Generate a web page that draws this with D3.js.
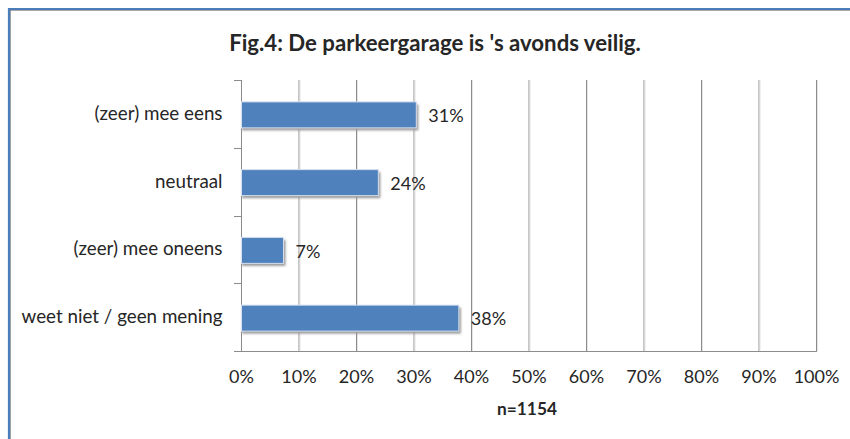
<!DOCTYPE html>
<html>
<head>
<meta charset="utf-8">
<script src="https://cdn.jsdelivr.net/npm/d3@7"></script>
<style>
  html, body { margin: 0; padding: 0; background: #fff; }
  svg { display: block; }
  text { font-family: Lato, "Open Sans", sans-serif; fill: #262626; }
</style>
</head>
<body>
<svg id="chart" width="850" height="439"></svg>
<script>
const title = "Fig.4: De parkeergarage is 's avonds veilig.";
const categories = ["(zeer) mee eens", "neutraal", "(zeer) mee oneens", "weet niet / geen mening"];
const values = [30.4, 23.8, 7.3, 37.8];
const valueLabels = ["31%", "24%", "7%", "38%"];
const xTicks = [0, 10, 20, 30, 40, 50, 60, 70, 80, 90, 100];
const footnote = "n=1154";

const svg = d3.select("#chart");
const defs = svg.append("defs");
const f = defs.append("filter").attr("id", "shadow").attr("x", "-10%").attr("y", "-30%").attr("width", "130%").attr("height", "190%");
f.append("feGaussianBlur").attr("stdDeviation", 1.2);

// frame
svg.append("rect").attr("x", 10).attr("y", 10).attr("width", 860).attr("height", 460)
  .attr("fill", "none").attr("stroke", "#8a8a8a").attr("stroke-width", 1.5);
svg.append("line").attr("x1", 9).attr("x2", 850).attr("y1", 9).attr("y2", 9).attr("stroke", "#4a7ebb").attr("stroke-width", 2.2);
svg.append("line").attr("x1", 9).attr("x2", 9).attr("y1", 8).attr("y2", 439).attr("stroke", "#4a7ebb").attr("stroke-width", 2.2);

const m = { left: 241, right: 816, top: 80, bottom: 351 };
const x = d3.scaleLinear().domain([0, 100]).range([m.left, m.right]);
const yb = d3.scaleBand().domain(categories).range([m.top, m.bottom]);

// gridlines
svg.append("g").selectAll("line").data(xTicks.slice(1)).join("line")
  .attr("x1", d => x(d) + 0.5).attr("x2", d => x(d) + 0.5)
  .attr("y1", m.top).attr("y2", m.bottom)
  .attr("stroke", "#8c8c8c").attr("stroke-width", 1);
svg.append("g").selectAll("line").data(xTicks.slice(1)).join("line")
  .attr("x1", d => x(d) + 1.5).attr("x2", d => x(d) + 1.5)
  .attr("y1", m.top).attr("y2", m.bottom)
  .attr("stroke", "#e4e4e4").attr("stroke-width", 1);

// x axis
const xAxis = d3.axisBottom(x).tickValues(xTicks).tickSize(0).tickPadding(19).tickFormat(d => d + "%");
const gx = svg.append("g").attr("transform", `translate(0,${m.bottom + 0.5})`).call(xAxis);
gx.select(".domain").remove();
gx.selectAll("text").attr("font-size", 18).attr("font-family", "Lato, sans-serif").attr("fill", "#262626");
svg.append("line").attr("x1", 234).attr("x2", m.right + 1).attr("y1", m.bottom + 0.5).attr("y2", m.bottom + 0.5)
  .attr("stroke", "#8c8c8c");

// y axis
const yAxis = d3.axisLeft(yb).tickSize(0).tickPadding(19);
const gy = svg.append("g").attr("transform", `translate(${m.left + 0.5},0)`).call(yAxis);
gy.select(".domain").remove();
gy.selectAll("text").attr("font-size", 18.8).attr("font-family", "Lato, sans-serif").attr("fill", "#262626");
svg.append("line").attr("x1", m.left + 0.5).attr("x2", m.left + 0.5).attr("y1", m.top).attr("y2", m.bottom)
  .attr("stroke", "#8c8c8c");
const bounds = categories.map(c => yb(c)).concat([m.bottom]);
svg.append("g").selectAll("line").data(bounds).join("line")
  .attr("x1", 234).attr("x2", m.left).attr("y1", d => Math.round(d) + 0.5).attr("y2", d => Math.round(d) + 0.5)
  .attr("stroke", "#8c8c8c");

// bars
const bh = 26;
const by = c => yb(c) + yb.bandwidth() / 2 - bh / 2 + 1;
svg.append("g").selectAll("rect").data(categories).join("rect")
  .attr("x", x(0) + 1).attr("y", c => by(c) + 2.5)
  .attr("width", (c, i) => x(values[i]) - x(0) + 1.5).attr("height", bh)
  .attr("fill", "#9a9a9a").attr("filter", "url(#shadow)");
svg.append("g").selectAll("rect").data(categories).join("rect")
  .attr("x", x(0) + 0.5).attr("y", c => by(c))
  .attr("width", (c, i) => x(values[i]) - x(0)).attr("height", bh)
  .attr("fill", "#4f81bd").attr("stroke", "#d6e0ef").attr("stroke-width", 1);

// value labels
svg.append("g").selectAll("text").data(categories).join("text")
  .attr("x", (c, i) => x(values[i]) + 12.5)
  .attr("y", c => yb(c) + yb.bandwidth() / 2 + 2)
  .attr("dy", "0.35em")
  .attr("font-size", 18)
  .text((c, i) => valueLabels[i]);

// title
svg.append("text").attr("x", 435).attr("y", 51).attr("text-anchor", "middle")
  .attr("font-size", 22.2).attr("font-weight", "bold").attr("fill", "#000").text(title);

// footnote
svg.append("text").attr("x", 527).attr("y", 415).attr("text-anchor", "middle")
  .attr("font-size", 17.3).attr("font-weight", "bold").attr("fill", "#000").text(footnote);
</script>
</body>
</html>
